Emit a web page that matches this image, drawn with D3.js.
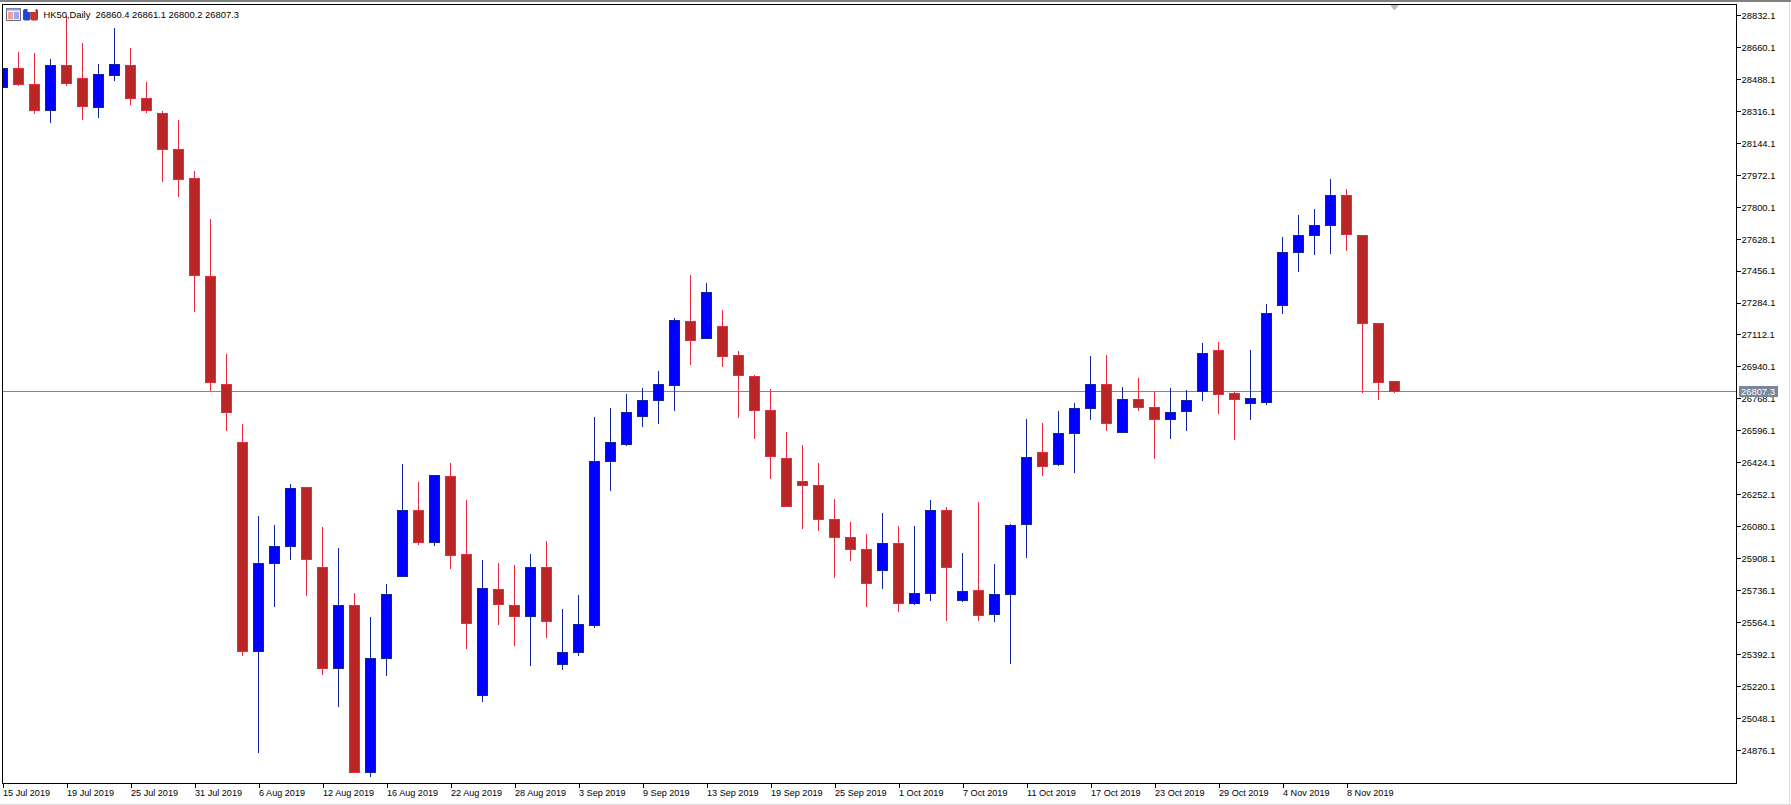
<!DOCTYPE html>
<html><head><meta charset="utf-8">
<script src="https://cdn.jsdelivr.net/npm/d3@7"></script>
<style>
html,body{margin:0;padding:0;background:#fff;overflow:hidden}
svg{display:block}
text{font-family:"Liberation Sans",Arial,sans-serif;font-size:9.1px;fill:#000}
</style></head><body>
<svg id="c" width="1791" height="805"></svg>
<script>
const dates=["15 Jul 2019","16 Jul 2019","17 Jul 2019","18 Jul 2019","19 Jul 2019","22 Jul 2019","23 Jul 2019","24 Jul 2019","25 Jul 2019","26 Jul 2019",
"29 Jul 2019","30 Jul 2019","31 Jul 2019","1 Aug 2019","2 Aug 2019","5 Aug 2019","6 Aug 2019","7 Aug 2019","8 Aug 2019","9 Aug 2019",
"12 Aug 2019","13 Aug 2019","14 Aug 2019","15 Aug 2019","16 Aug 2019","19 Aug 2019","20 Aug 2019","21 Aug 2019","22 Aug 2019","23 Aug 2019",
"26 Aug 2019","27 Aug 2019","28 Aug 2019","29 Aug 2019","30 Aug 2019","2 Sep 2019","3 Sep 2019","4 Sep 2019","5 Sep 2019","6 Sep 2019",
"9 Sep 2019","10 Sep 2019","11 Sep 2019","12 Sep 2019","13 Sep 2019","16 Sep 2019","17 Sep 2019","18 Sep 2019","19 Sep 2019","20 Sep 2019",
"23 Sep 2019","24 Sep 2019","25 Sep 2019","26 Sep 2019","27 Sep 2019","30 Sep 2019","1 Oct 2019","2 Oct 2019","3 Oct 2019","4 Oct 2019",
"7 Oct 2019","8 Oct 2019","9 Oct 2019","10 Oct 2019","11 Oct 2019","14 Oct 2019","15 Oct 2019","16 Oct 2019","17 Oct 2019","18 Oct 2019",
"21 Oct 2019","22 Oct 2019","23 Oct 2019","24 Oct 2019","25 Oct 2019","28 Oct 2019","29 Oct 2019","30 Oct 2019","31 Oct 2019","1 Nov 2019",
"4 Nov 2019","5 Nov 2019","6 Nov 2019","7 Nov 2019","8 Nov 2019","11 Nov 2019","12 Nov 2019","13 Nov 2019"];
const opens=[28444.8,28548.8,28462.7,28321.0,28565.0,28495.0,28337.1,28509.4,28565.0,28387.4,
28306.6,28112.9,27956.8,27429.4,26848.1,26536.0,25409.3,25882.9,25974.4,26293.8,
25863.2,25317.8,25658.7,24758.1,25371.7,25813.0,26170.0,25996.0,26351.8,25932.7,
25172.6,25744.1,25658.4,25597.4,25858.4,25340.2,25403.1,25549.8,26431.8,26523.3,
26673.8,26759.5,26841.4,27186.3,27094.8,27159.6,27003.4,26891.0,26708.1,26449.0,
26321.4,26304.2,26121.3,26024.1,25959.4,25845.1,25991.8,25667.9,25721.2,26168.9,
25683.1,25734.6,25608.8,25715.5,26092.7,26481.4,26416.6,26582.4,26717.6,26847.2,
26588.1,26767.1,26719.5,26656.7,26698.6,26809.1,27026.2,26799.5,26744.3,26750.0,
27271.5,27556.7,27648.2,27702.1,27865.3,27650.0,27176.4,26860.4];
const highs=[28560.0,28636.7,28631.4,28599.1,28830.5,28685.2,28572.2,28765.9,28658.3,28475.3,
28319.2,28270.8,27996.3,27737.9,27011.4,26634.6,26139.5,26091.0,26311.7,26293.8,
26080.3,25967.3,25725.1,25595.9,25773.5,26419.4,26322.5,26358.4,26428.0,26226.1,
25902.2,25887.0,25875.6,25934.6,26005.1,25639.3,25713.6,26671.9,26721.4,26795.7,
26828.1,26919.6,27205.3,27435.8,27393.9,27247.2,27028.1,26898.6,26822.4,26591.9,
26521.4,26424.2,26231.8,26108.0,26043.2,26155.6,26085.1,26085.1,26226.1,26188.0,
25940.3,26214.7,25881.3,26096.6,26662.4,26639.5,26704.3,26748.1,27001.5,27005.3,
26833.8,26881.5,26807.1,26828.1,26816.7,27070.1,27075.8,26811.0,27032.0,27279.6,
27644.7,27759.5,27791.8,27953.2,27899.4,27650.0,27176.4,26861.1];
const lows=[28440.0,28453.7,28304.8,28256.4,28453.7,28272.6,28283.3,28482.5,28353.3,28310.2,
27938.9,27858.1,27239.2,26812.2,26598.8,25387.8,24865.7,25651.5,25902.7,25710.7,
25285.5,25113.3,24758.1,24736.6,25280.2,25813.0,25985.2,25979.8,25856.5,25426.0,
25140.1,25555.5,25441.2,25334.5,25485.0,25309.7,25387.9,25538.4,26273.7,26515.7,
26620.5,26635.7,26706.2,26951.9,27094.8,26940.5,26666.2,26553.8,26338.5,26189.9,
26069.9,26058.4,25805.1,25896.5,25648.9,25746.0,25622.2,25660.3,25683.1,25576.5,
25677.4,25576.5,25570.7,25344.0,25915.6,26355.6,26409.0,26370.9,26656.7,26597.6,
26588.1,26704.3,26447.1,26553.8,26597.6,26757.6,26689.0,26548.1,26656.7,26738.6,
27228.4,27454.5,27546.0,27551.4,27567.5,26805.1,26765.6,26800.2];
const closes=[28548.8,28460.9,28322.8,28565.0,28468.1,28342.5,28516.5,28570.4,28385.6,28321.0,
28111.1,27949.6,27433.0,26857.1,26695.6,25409.3,25884.7,25976.2,26288.4,25904.5,
25317.8,25658.7,24758.1,25373.4,25717.9,26170.0,25996.0,26358.4,25925.1,25561.2,
25749.8,25664.1,25597.4,25858.4,25572.6,25405.0,25551.7,26433.7,26530.9,26696.7,
26761.4,26843.4,27192.0,27083.4,27338.7,26997.7,26894.8,26706.2,26458.5,26189.9,
26302.3,26119.4,26022.2,25957.5,25774.6,25991.8,25667.9,25719.3,26165.1,25862.2,
25728.9,25605.0,25717.4,26088.9,26454.7,26405.2,26584.3,26713.8,26847.2,26635.7,
26767.1,26723.3,26658.6,26696.7,26761.4,27014.8,26791.9,26765.2,26772.9,27230.1,
27558.5,27650.0,27703.9,27865.3,27653.6,27174.6,26857.1,26807.3];
const dateTicks=["15 Jul 2019","19 Jul 2019","25 Jul 2019","31 Jul 2019","6 Aug 2019","12 Aug 2019","16 Aug 2019","22 Aug 2019","28 Aug 2019","3 Sep 2019","9 Sep 2019","13 Sep 2019","19 Sep 2019","25 Sep 2019","1 Oct 2019","7 Oct 2019","11 Oct 2019","17 Oct 2019","23 Oct 2019","29 Oct 2019","4 Nov 2019","8 Nov 2019"];
const priceTicks=[28832.1,28660.1,28488.1,28316.1,28144.1,27972.1,27800.1,27628.1,27456.1,27284.1,27112.1,26940.1,26768.1,26596.1,26424.1,26252.1,26080.1,25908.1,25736.1,25564.1,25392.1,25220.1,25048.1,24876.1];
const lastPrice=26807.3;
const title="HK50,Daily  26860.4 26861.1 26800.2 26807.3";

const L=2.5,R=1736.5,T=4.5,B=783.5;
const RED_FILL="#BA2626",RED_LINE="#EC2C40",BLUE_FILL="#0000FF",BLUE_LINE="#10249C",LAST="#778899";
const svg=d3.select("#c");
const x=d3.scalePoint().domain(dates).range([2.5,2.5+16*(dates.length-1)]);
const y=d3.scaleLinear().domain([24695.5,28888.1]).range([B,T]);
const px=v=>Math.round(y(v))+0.5;
const rows=dates.map((d,i)=>({d,o:opens[i],h:highs[i],l:lows[i],c:closes[i],up:closes[i]>opens[i]}));

// window edges
svg.append("rect").attr("x",0).attr("y",0).attr("width",1791).attr("height",2).attr("fill","#808080");
svg.append("rect").attr("x",0).attr("y",804).attr("width",1791).attr("height",1).attr("fill","#DCDCDC");
svg.append("rect").attr("x",1789).attr("y",2).attr("width",1).attr("height",803).attr("fill","#DCDCDC");

// last-price line behind the candles
svg.append("line").attr("x1",L).attr("x2",R).attr("y1",px(lastPrice)).attr("y2",px(lastPrice)).attr("stroke",LAST).attr("stroke-width",1).attr("shape-rendering","crispEdges");

svg.append("clipPath").attr("id","plot").append("rect").attr("x",L).attr("y",T).attr("width",R-L).attr("height",B-T);
const g=svg.append("g").attr("clip-path","url(#plot)");
const cs=g.selectAll("g.c").data(rows).join("g").attr("class","c");
cs.append("line").attr("x1",d=>x(d.d)).attr("x2",d=>x(d.d))
  .attr("y1",d=>px(d.h)).attr("y2",d=>px(d.l))
  .attr("stroke",d=>d.up?BLUE_LINE:RED_LINE).attr("stroke-width",1).attr("shape-rendering","crispEdges");
cs.append("rect").attr("x",d=>x(d.d)-5).attr("width",10)
  .attr("y",d=>px(Math.max(d.o,d.c))).attr("height",d=>Math.max(1,px(Math.min(d.o,d.c))-px(Math.max(d.o,d.c))))
  .attr("fill",d=>d.up?BLUE_FILL:RED_FILL).attr("stroke",d=>d.up?BLUE_LINE:RED_LINE).attr("stroke-width",1).attr("shape-rendering","crispEdges");

// frame
svg.append("rect").attr("x",L).attr("y",T).attr("width",R-L).attr("height",B-T).attr("fill","none").attr("stroke","#000").attr("stroke-width",1).attr("shape-rendering","crispEdges");

// axes
const ay=d3.axisRight(y).tickValues(priceTicks).tickSize(4).tickPadding(1).tickFormat(d3.format(".1f"));
const gy=svg.append("g").attr("transform",`translate(${R},0)`).call(ay);
gy.select(".domain").remove();
gy.selectAll("line").attr("stroke","#000").attr("shape-rendering","crispEdges");
gy.selectAll("text").attr("dy","0.36em").style("font-size","9.4px");

const ax=d3.axisBottom(x).tickValues(dateTicks).tickSize(4).tickPadding(1);
const gx=svg.append("g").attr("transform",`translate(0,${B})`).call(ax);
gx.select(".domain").remove();
gx.selectAll("line").attr("stroke","#000").attr("shape-rendering","crispEdges");
gx.selectAll("text").attr("text-anchor","start").attr("y",5).attr("dy","0.8em").style("font-size","9.1px");

// last-price tag
svg.append("rect").attr("x",1739).attr("y",px(lastPrice)-5.5).attr("width",39).attr("height",11).attr("fill",LAST);
svg.append("text").attr("x",1741).attr("y",px(lastPrice)).attr("dy","0.36em").style("font-size","9.4px").style("fill","#fff").text(d3.format(".1f")(lastPrice));

// chart-shift marker
svg.append("path").attr("d",d3.line()([[1390,5],[1399,5],[1395,10],[1394,10]])+"Z").attr("fill","#BDBDBD");

// title + icons
svg.append("text").attr("x",43.5).attr("y",14.5).attr("dy","0.36em").attr("xml:space","preserve").style("white-space","pre").style("font-size","9.4px").text(title);
const ic=svg.append("g");
ic.append("rect").attr("x",6.5).attr("y",8.5).attr("width",14).attr("height",12).attr("fill","#EEF0FA").attr("stroke","#6A6A8A");
ic.append("rect").attr("x",6.5).attr("y",8.5).attr("width",14).attr("height",2).attr("fill","#8FA0E0");
ic.append("rect").attr("x",8).attr("y",12).attr("width",5).attr("height",7).attr("fill","#F3A090");
ic.append("rect").attr("x",14).attr("y",12).attr("width",5).attr("height",7).attr("fill","#9AA8F0");
ic.append("rect").attr("x",23.5).attr("y",9.5).attr("width",6.5).attr("height",10.5).attr("rx",1).attr("fill","#2A3FD8").attr("stroke","#3A4AB0");
ic.append("rect").attr("x",31).attr("y",9.5).attr("width",6.5).attr("height",10.5).attr("rx",1).attr("fill","#C8352A").attr("stroke","#A03030");
ic.append("rect").attr("x",27.5).attr("y",8).attr("width",8).attr("height",4).attr("fill","#fff");
</script></body></html>
